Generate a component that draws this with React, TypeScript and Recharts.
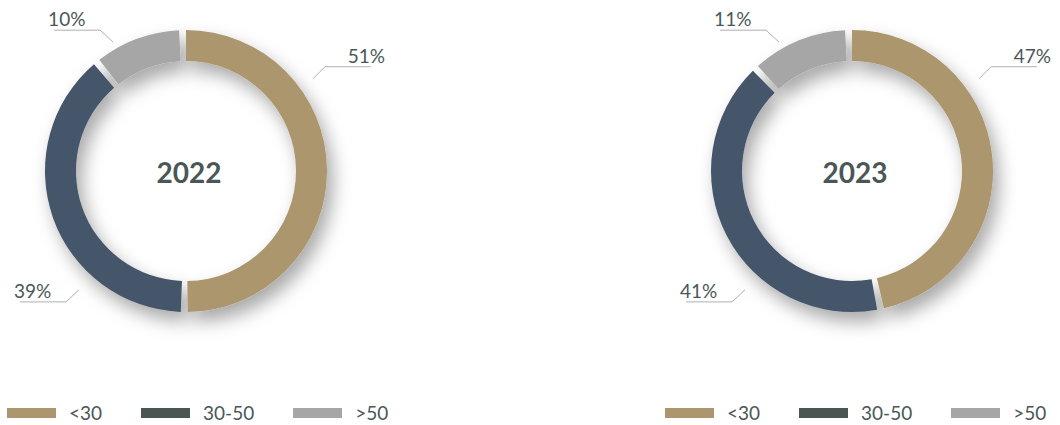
import { PieChart, Pie, Cell, Legend } from 'recharts';

const categories = ['<30', '30-50', '>50'];
const years = ['2022', '2023'];
const values2022 = [51, 39, 10];
const values2023 = [47, 41, 11];

const sliceColors = ['#ac966d', '#44546b', '#a6a6a6'];
const legendColors = ['#ac966d', '#4a5654', '#a6a6a6'];
const textColor = '#4b5757';
const font = 'Lato, "Open Sans", sans-serif';

// where the leader lines leave the ring, per category (degrees, 0 = 3 o'clock, ccw)
const labelAngles = [36, 228, 119.5];
const labelRadii = [157, 160, 148];
const RAD = Math.PI / 180;

const toRows = (values: number[]) =>
  categories.map((name, i) => ({ name, value: values[i] }));

const makeLabel = (year: string) => (props: any) => {
  const { cx, cy, index, value } = props;
  const a = labelAngles[index] * RAD;
  const r = labelRadii[index];
  const px = cx + r * Math.cos(a);
  const py = cy - r * Math.sin(a);
  const right = Math.cos(a) > 0;
  const up = Math.sin(a) > 0;
  const ex = px + (right ? 12 : -13);
  const ey = py + (up ? -12 : 12);
  const hx = ex + (right ? 46 : -46);
  return (
    <g key={`lbl-${index}`}>
      <polyline
        points={`${px},${py} ${ex},${ey} ${hx},${ey}`}
        fill="none"
        stroke="#b0b0b0"
        strokeWidth={1}
      />
      <text
        x={right ? hx + 14 : hx - 6}
        y={ey - 4}
        textAnchor={right ? 'end' : 'start'}
        fill={textColor}
        fontFamily={font}
        fontSize={19}
      >
        {value}%
      </text>
      {index === 0 && (
        <text
          x={cx + 3}
          y={cy + 1}
          textAnchor="middle"
          dominantBaseline="central"
          fill={textColor}
          fontFamily={font}
          fontWeight={700}
          fontSize={28}
        >
          {year}
        </text>
      )}
    </g>
  );
};

const LegendRow = ({ left }: { left: number }) => (
  <div
    style={{
      position: 'absolute',
      left,
      top: 0,
      width: 400,
      display: 'flex',
      flexWrap: 'nowrap',
      alignItems: 'center',
      whiteSpace: 'nowrap',
    }}
  >
    {categories.map((c, i) => (
      <div key={c} style={{ display: 'flex', alignItems: 'center', marginRight: 39, flexShrink: 0 }}>
        <span
          style={{
            display: 'inline-block',
            width: 49,
            height: 10,
            background: legendColors[i],
            marginRight: 13,
          }}
        />
        <span style={{ fontFamily: font, fontSize: 19, color: textColor, lineHeight: '22px' }}>{c}</span>
      </div>
    ))}
  </div>
);

const LegendContent = () => (
  <div style={{ position: 'relative', width: 1060, height: 24 }}>
    <LegendRow left={7} />
    <LegendRow left={665} />
  </div>
);

export default function App() {
  const pies = [
    { year: years[0], rows: toRows(values2022), cx: 186 },
    { year: years[1], rows: toRows(values2023), cx: 852 },
  ];
  return (
    <div style={{ position: 'absolute', left: 0, top: 0, width: 1060, height: 425, background: '#fff' }}>
      <style>{`.donut .recharts-pie { filter: url(#ringShadow); }`}</style>
      <PieChart
        width={1060}
        height={425}
        className="donut"
        margin={{ top: 0, right: 0, bottom: 0, left: 0 }}
      >
        <defs>
          <filter id="ringShadow" x="-30%" y="-30%" width="160%" height="160%">
            <feDropShadow dx={6} dy={10} stdDeviation={9} floodColor="#000" floodOpacity={0.34} />
          </filter>
        </defs>
        {pies.map((p) => (
          <Pie
            key={p.year}
            data={p.rows}
            dataKey="value"
            nameKey="name"
            cx={p.cx}
            cy={171}
            innerRadius={110}
            outerRadius={141}
            startAngle={90}
            endAngle={-270}
            paddingAngle={2.8}
            stroke="none"
            label={makeLabel(p.year)}
            labelLine={false}
            isAnimationActive={false}
          >
            {p.rows.map((r, i) => (
              <Cell key={r.name} fill={sliceColors[i]} />
            ))}
          </Pie>
        ))}
        <Legend
          content={<LegendContent />}
          wrapperStyle={{ position: 'absolute', left: 0, top: 402, width: 1060 }}
        />
      </PieChart>
    </div>
  );
}
